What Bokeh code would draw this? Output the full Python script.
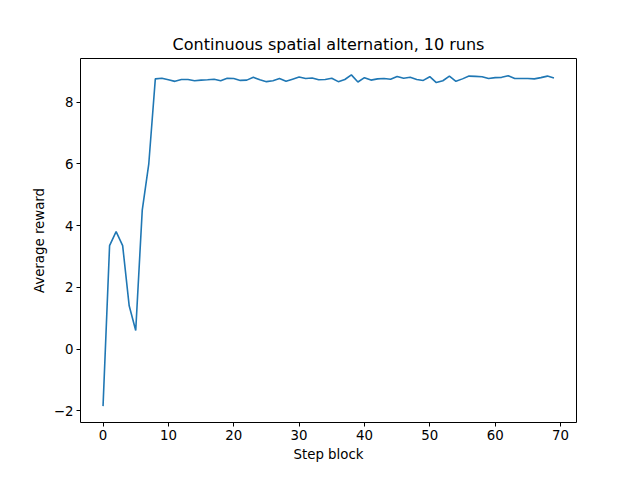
from bokeh.plotting import figure
from bokeh.models import Range1d, FixedTicker
from bokeh.embed import file_html
from bokeh.resources import INLINE

steps = list(range(70))
reward = [-1.85, 3.35, 3.8, 3.35, 1.4, 0.6, 4.5, 6.0, 8.75, 8.77,
          8.72, 8.67, 8.73, 8.73, 8.69, 8.71, 8.72, 8.74, 8.69, 8.77,
          8.76, 8.70, 8.71, 8.80, 8.72, 8.66, 8.69, 8.76, 8.67, 8.74,
          8.81, 8.76, 8.78, 8.72, 8.73, 8.77, 8.66, 8.73, 8.88, 8.65,
          8.79, 8.71, 8.75, 8.76, 8.74, 8.83, 8.77, 8.80, 8.73, 8.70,
          8.82, 8.63, 8.69, 8.84, 8.67, 8.75, 8.84, 8.83, 8.82, 8.76,
          8.79, 8.80, 8.85, 8.76, 8.76, 8.76, 8.75, 8.79, 8.84, 8.78]

p = figure(width=624, height=464, output_backend="svg", toolbar_location=None,
           title="Continuous spatial alternation, 10 runs",
           x_range=Range1d(-3.45, 72.45), y_range=Range1d(-2.38, 9.41),
           min_border_left=80, min_border_right=48, min_border_top=58, min_border_bottom=37)
p.line(steps, reward, line_color="#1f77b4", line_width=1.6)
p.xgrid.visible = False
p.ygrid.visible = False
p.xaxis.ticker = FixedTicker(ticks=[0, 10, 20, 30, 40, 50, 60, 70])
p.yaxis.ticker = FixedTicker(ticks=[-2, 0, 2, 4, 6, 8])
p.xaxis.axis_label = "Step block"
p.yaxis.axis_label = "Average reward"
p.title.align = "center"
p.title.text_font = "DejaVu Sans"
p.title.text_font_size = "12pt"
p.title.text_font_style = "normal"
p.title.text_color = "black"
for ax in (p.xaxis[0], p.yaxis[0]):
    ax.axis_label_text_font = "DejaVu Sans"
    ax.axis_label_text_font_style = "normal"
    ax.axis_label_text_font_size = "10pt"
    ax.axis_label_text_color = "black"
    ax.axis_label_standoff = 4
    ax.major_label_text_font = "DejaVu Sans"
    ax.major_label_text_font_size = "10pt"
    ax.major_label_text_color = "black"
    ax.major_label_standoff = 3
    ax.minor_tick_line_color = None
    ax.major_tick_out = 4
    ax.major_tick_in = 0
    ax.major_tick_line_color = "black"
    ax.axis_line_color = None
p.outline_line_color = "black"
p.outline_line_width = 1

open("out.html", "w").write(file_html(p, INLINE))
